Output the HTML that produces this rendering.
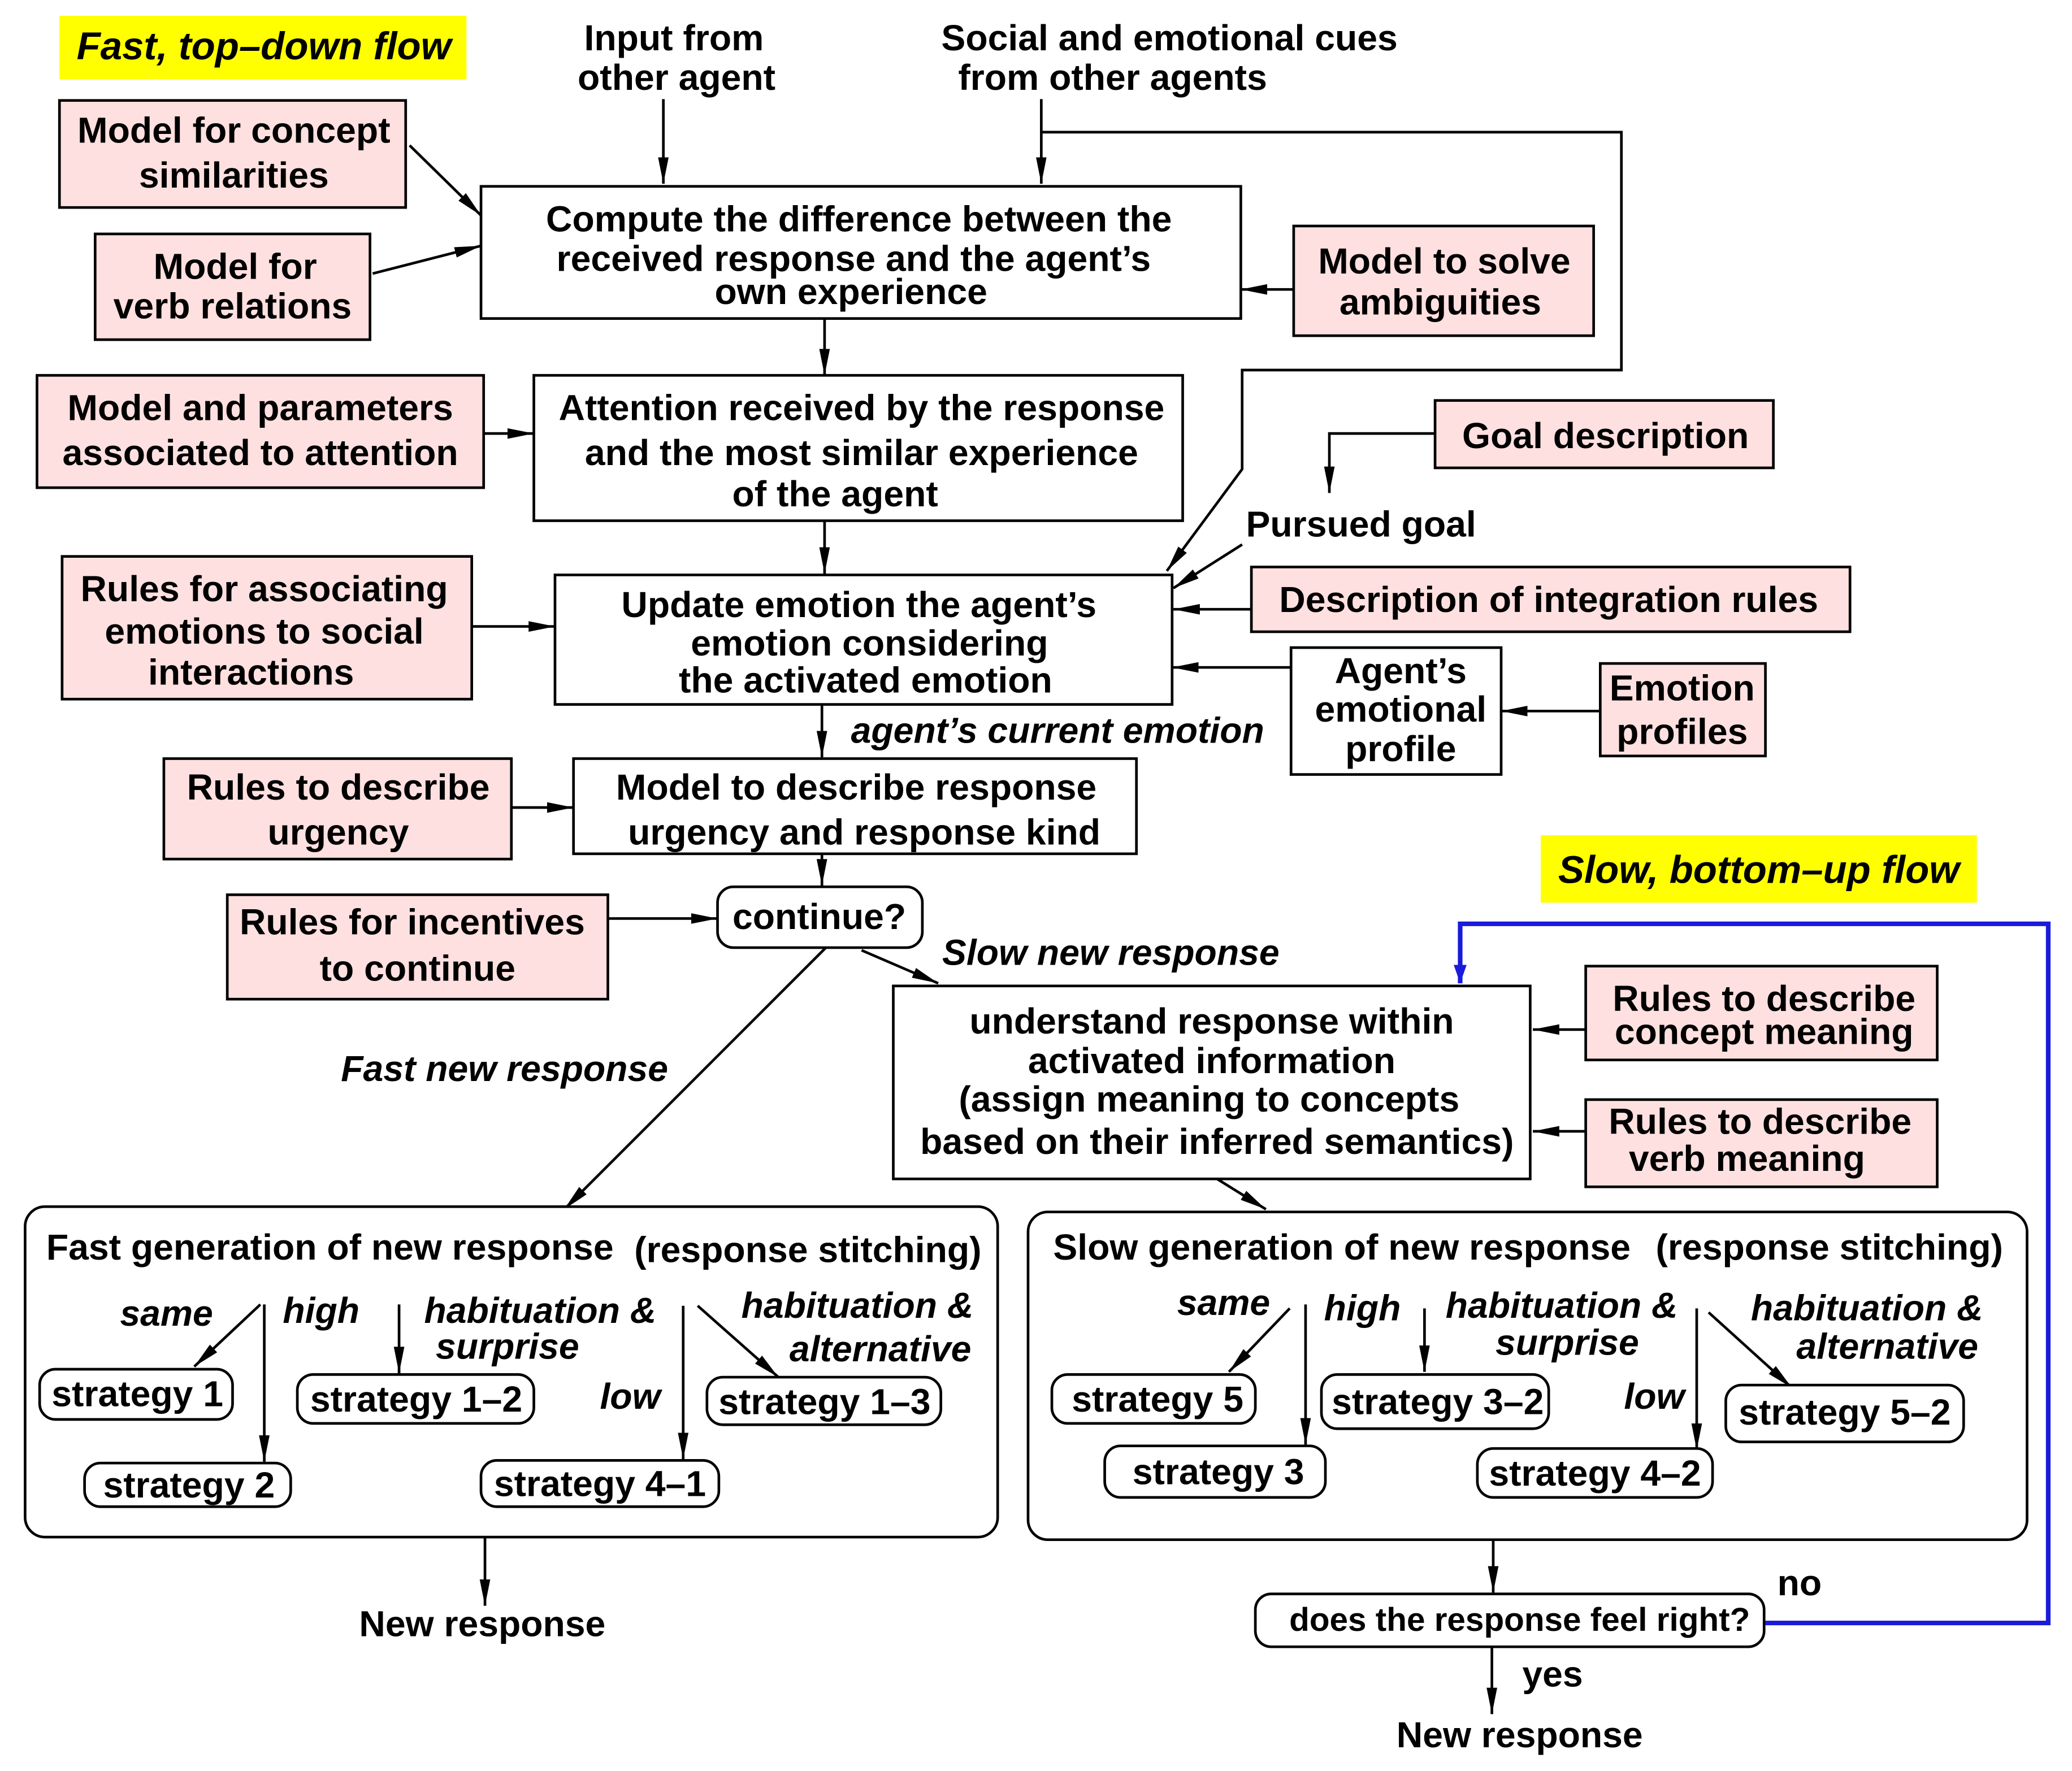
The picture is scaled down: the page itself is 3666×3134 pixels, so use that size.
<!DOCTYPE html>
<html><head><meta charset="utf-8"><style>
html,body{margin:0;padding:0;background:#fff;}
svg{display:block;}
text{font-family:"Liberation Sans",Arial,sans-serif;font-weight:bold;font-size:27.5px;fill:#000;}
.i{font-style:italic;}
.c{text-anchor:middle;}
.y{font-size:29.5px;}
.p{fill:#ffe0e0;stroke:#000;stroke-width:2;}
.b{fill:#fff;stroke:#000;stroke-width:2;}
</style></head><body>
<svg width="3666" height="3134" viewBox="0 0 1568 1340" preserveAspectRatio="none" xmlns="http://www.w3.org/2000/svg">
<defs>
<marker id="ab" viewBox="0 0 10 10" refX="10" refY="5" markerWidth="14" markerHeight="18" orient="auto" markerUnits="userSpaceOnUse"><path d="M0,1.5 L10,5 L0,8.5 z" fill="#1a1adc"/></marker>
<marker id="m" viewBox="0 0 20 10" refX="20" refY="5" markerWidth="20" markerHeight="10" orient="auto" markerUnits="userSpaceOnUse"><path d="M0,1 L20,5 L0,9 z" fill="#000"/></marker>
</defs>
<style>.ar{stroke:#000;stroke-width:2;fill:none;marker-end:url(#m);}</style>

<rect x="45" y="12" width="308" height="48" fill="#ffff00"/>
<text class="i y" x="58" y="45">Fast, top–down flow</text>
<rect x="1166" y="632" width="330" height="51" fill="#ffff00"/>
<text class="i c y" x="1331" y="668">Slow, bottom–up flow</text>

<text class="c" x="510" y="38">Input from</text>
<text class="c" x="512" y="68">other agent</text>
<text class="c" x="885" y="38">Social and emotional cues</text>
<text class="c" x="842" y="68">from other agents</text>
<line class="ar" x1="502" y1="75" x2="502" y2="139"/>
<line class="ar" x1="788" y1="75" x2="788" y2="139"/>
<polyline class="ar" points="788,100 1227,100 1227,280 940,280 940,355 883,432"/>

<rect class="b" x="364" y="141" width="575" height="100"/>
<text class="c" x="650" y="175">Compute the difference between the</text>
<text class="c" x="646" y="205">received response and the agent’s</text>
<text class="c" x="644" y="230">own experience</text>

<rect class="p" x="45" y="76" width="262" height="81"/>
<text class="c" x="177" y="108">Model for concept</text>
<text class="c" x="177" y="142">similarities</text>
<line class="ar" x1="310" y1="110" x2="364" y2="163"/>

<rect class="p" x="72" y="177" width="208" height="80"/>
<text class="c" x="178" y="211">Model for</text>
<text class="c" x="176" y="241">verb relations</text>
<line class="ar" x1="282" y1="207" x2="364" y2="186"/>

<rect class="p" x="979" y="171" width="227" height="83"/>
<text class="c" x="1093" y="207">Model to solve</text>
<text class="c" x="1090" y="238">ambiguities</text>
<line class="ar" x1="979" y1="219" x2="939" y2="219"/>

<line class="ar" x1="624" y1="241" x2="624" y2="284"/>

<rect class="b" x="404" y="284" width="491" height="110"/>
<text class="c" x="652" y="318">Attention received by the response</text>
<text class="c" x="652" y="352">and the most similar experience</text>
<text class="c" x="632" y="383">of the agent</text>
<rect class="p" x="28" y="284" width="338" height="85"/>
<text class="c" x="197" y="318">Model and parameters</text>
<text class="c" x="197" y="352">associated to attention</text>
<line class="ar" x1="366" y1="328" x2="404" y2="328"/>

<line class="ar" x1="624" y1="394" x2="624" y2="434"/>

<rect class="p" x="1086" y="303" width="256" height="51"/>
<text class="c" x="1215" y="339">Goal description</text>
<polyline class="ar" points="1086,328 1006,328 1006,373"/>
<text class="c" x="1030" y="406">Pursued goal</text>
<line class="ar" x1="940" y1="412" x2="888" y2="445"/>

<rect class="p" x="947" y="429" width="453" height="49"/>
<text class="c" x="1172" y="463">Description of integration rules</text>
<line class="ar" x1="947" y1="461" x2="888" y2="461"/>

<rect class="b" x="420" y="435" width="467" height="98"/>
<text class="c" x="650" y="467">Update emotion the agent’s</text>
<text class="c" x="658" y="496">emotion considering</text>
<text class="c" x="655" y="524">the activated emotion</text>
<rect class="p" x="47" y="421" width="310" height="108"/>
<text class="c" x="200" y="455">Rules for associating</text>
<text class="c" x="200" y="487">emotions to social</text>
<text class="c" x="190" y="518">interactions</text>
<line class="ar" x1="357" y1="474" x2="420" y2="474"/>

<rect class="b" x="977" y="490" width="159" height="96"/>
<text class="c" x="1060" y="517">Agent’s</text>
<text class="c" x="1060" y="546">emotional</text>
<text class="c" x="1060" y="576">profile</text>
<line class="ar" x1="977" y1="505" x2="887" y2="505"/>
<rect class="p" x="1211" y="502" width="125" height="70"/>
<text class="c" x="1273" y="530">Emotion</text>
<text class="c" x="1273" y="563">profiles</text>
<line class="ar" x1="1211" y1="538" x2="1136" y2="538"/>

<line class="ar" x1="622" y1="533" x2="622" y2="573"/>
<text class="i" x="644" y="562">agent’s current emotion</text>

<rect class="b" x="434" y="574" width="426" height="72"/>
<text class="c" x="648" y="605">Model to describe response</text>
<text class="c" x="654" y="639">urgency and response kind</text>
<rect class="p" x="124" y="574" width="263" height="76"/>
<text class="c" x="256" y="605">Rules to describe</text>
<text class="c" x="256" y="639">urgency</text>
<line class="ar" x1="387" y1="611" x2="434" y2="611"/>

<line class="ar" x1="622" y1="646" x2="622" y2="670"/>
<rect class="b" x="543" y="671" width="155" height="46" rx="12"/>
<text class="c" x="620" y="703">continue?</text>
<rect class="p" x="172" y="677" width="288" height="79"/>
<text class="c" x="312" y="707">Rules for incentives</text>
<text class="c" x="316" y="742">to continue</text>
<line class="ar" x1="460" y1="695" x2="543" y2="695"/>

<text class="i" x="713" y="730">Slow new response</text>
<line class="ar" x1="652" y1="719" x2="710" y2="744"/>
<line class="ar" x1="625" y1="717" x2="427" y2="915"/>
<text class="i" x="258" y="818">Fast new response</text>

<rect class="b" x="676" y="746" width="482" height="146"/>
<text class="c" x="917" y="782">understand response within</text>
<text class="c" x="917" y="812">activated information</text>
<text class="c" x="915" y="841">(assign meaning to concepts</text>
<text class="c" x="921" y="873">based on their inferred semantics)</text>
<rect class="p" x="1200" y="731" width="266" height="71"/>
<text class="c" x="1335" y="765">Rules to describe</text>
<text class="c" x="1335" y="790">concept meaning</text>
<line class="ar" x1="1200" y1="779" x2="1160" y2="779"/>
<rect class="p" x="1200" y="832" width="266" height="66"/>
<text class="c" x="1332" y="858">Rules to describe</text>
<text class="c" x="1322" y="886">verb meaning</text>
<line class="ar" x1="1200" y1="856" x2="1160" y2="856"/>

<polyline points="1336,1228 1550,1228 1550,699 1105,699 1105,744" fill="none" stroke="#1a1adc" stroke-width="3.5" marker-end="url(#ab)"/>
<line class="ar" x1="921" y1="892" x2="958" y2="915"/>

<rect class="b" x="19" y="913" width="736" height="250" rx="15"/>
<text x="35" y="953">Fast generation of new response</text>
<text x="480" y="955">(response stitching)</text>
<text class="i c" x="126" y="1003">same</text>
<text class="i" x="214" y="1001">high</text>
<text class="i" x="321" y="1001">habituation &amp;</text>
<text class="i c" x="384" y="1028">surprise</text>
<text class="i" x="561" y="997">habituation &amp;</text>
<text class="i" x="735" y="1030" text-anchor="end">alternative</text>
<text class="i" x="454" y="1066">low</text>
<line class="ar" x1="197" y1="987" x2="147" y2="1034"/>
<line class="ar" x1="200" y1="987" x2="200" y2="1106"/>
<line class="ar" x1="302" y1="987" x2="302" y2="1039"/>
<line class="ar" x1="517" y1="988" x2="517" y2="1104"/>
<line class="ar" x1="528" y1="988" x2="589" y2="1042"/>
<rect class="b" x="30" y="1036" width="146" height="38" rx="12"/><text class="c" x="104" y="1064">strategy 1</text>
<rect class="b" x="64" y="1107" width="156" height="33" rx="12"/><text class="c" x="143" y="1133">strategy 2</text>
<rect class="b" x="225" y="1040" width="179" height="37" rx="12"/><text class="c" x="315" y="1068">strategy 1–2</text>
<rect class="b" x="535" y="1042" width="177" height="36" rx="12"/><text class="c" x="624" y="1070">strategy 1–3</text>
<rect class="b" x="364" y="1105" width="180" height="35" rx="12"/><text class="c" x="454" y="1132">strategy 4–1</text>
<line class="ar" x1="367" y1="1163" x2="367" y2="1215"/>
<text class="c" x="365" y="1238">New response</text>

<rect class="b" x="778" y="917" width="756" height="248" rx="15"/>
<text x="797" y="953">Slow generation of new response</text>
<text x="1253" y="953">(response stitching)</text>
<text class="i c" x="926" y="995">same</text>
<text class="i" x="1002" y="999">high</text>
<text class="i" x="1094" y="997">habituation &amp;</text>
<text class="i c" x="1186" y="1025">surprise</text>
<text class="i" x="1325" y="999">habituation &amp;</text>
<text class="i" x="1497" y="1028" text-anchor="end">alternative</text>
<text class="i" x="1229" y="1066">low</text>
<line class="ar" x1="976" y1="990" x2="930" y2="1038"/>
<line class="ar" x1="988" y1="987" x2="988" y2="1093"/>
<line class="ar" x1="1078" y1="990" x2="1078" y2="1038"/>
<line class="ar" x1="1284" y1="990" x2="1284" y2="1097"/>
<line class="ar" x1="1293" y1="993" x2="1356" y2="1050"/>
<rect class="b" x="796" y="1040" width="154" height="37" rx="12"/><text class="c" x="876" y="1068">strategy 5</text>
<rect class="b" x="836" y="1094" width="167" height="39" rx="12"/><text class="c" x="922" y="1123">strategy 3</text>
<rect class="b" x="1000" y="1040" width="172" height="41" rx="12"/><text class="c" x="1088" y="1070">strategy 3–2</text>
<rect class="b" x="1118" y="1096" width="178" height="37" rx="12"/><text class="c" x="1207" y="1124">strategy 4–2</text>
<rect class="b" x="1306" y="1048" width="180" height="43" rx="12"/><text class="c" x="1396" y="1078">strategy 5–2</text>

<line class="ar" x1="1130" y1="1165" x2="1130" y2="1205"/>
<rect class="b" x="950" y="1206" width="385" height="40" rx="12"/>
<text class="c" x="1150" y="1234" style="font-size:25px">does the response feel right?</text>
<text x="1345" y="1207">no</text>
<line class="ar" x1="1129" y1="1246" x2="1129" y2="1297"/>
<text x="1152" y="1276">yes</text>
<text class="c" x="1150" y="1322">New response</text>
</svg>
</body></html>
